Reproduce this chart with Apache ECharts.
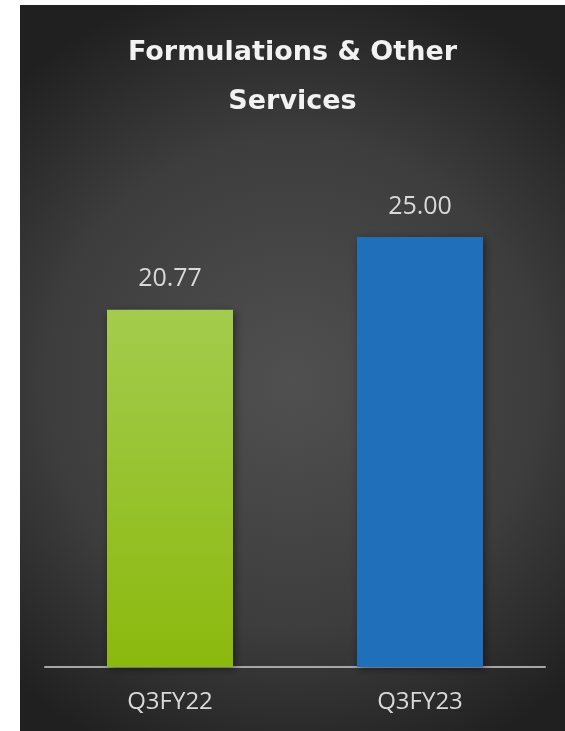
<!DOCTYPE html>
<html>
<head>
<meta charset="utf-8">
<script src="https://cdn.jsdelivr.net/npm/echarts@6/dist/echarts.min.js"></script>
<style>
  html, body { margin: 0; padding: 0; background: #ffffff; }
  #chart { position: absolute; left: 20px; top: 5px; width: 545px; height: 726px; }
</style>
</head>
<body>
<div id="chart"></div>
<script>
// Revenue by period (Formulations & Other Services)
const categories = ['Q3FY22', 'Q3FY23'];
const values = [20.77, 25.00];
const titleText = 'Formulations & Other\nServices';

const barColors = [
  new echarts.graphic.LinearGradient(0, 0, 0, 1, [
    { offset: 0, color: '#a3cc4d' },
    { offset: 1, color: '#8bb90d' }
  ]),
  '#1f6fba'
];

const chart = echarts.init(document.getElementById('chart'));
const W = 545, H = 726;

chart.setOption({
  animation: false,
  graphic: [{
    type: 'rect',
    z: -10,
    silent: true,
    shape: { x: 0, y: 0, width: W, height: H },
    style: {
      fill: new echarts.graphic.RadialGradient(0.5, 0.52, 0.75, [
        { offset: 0, color: '#505050' },
        { offset: 0.6, color: '#3d3d3d' },
        { offset: 1, color: '#202020' }
      ])
    }
  }],
  title: {
    text: titleText,
    left: 'center',
    top: 18,
    textStyle: {
      color: '#f2f2f2',
      fontFamily: 'DejaVu Sans',
      fontWeight: 'bold',
      fontSize: 27,
      lineHeight: 49
    }
  },
  grid: { left: 25, right: 20, top: 146, bottom: 64 },
  xAxis: {
    type: 'category',
    data: categories,
    axisTick: { show: false },
    axisLine: { lineStyle: { color: '#a6a6a6', width: 2 } },
    axisLabel: {
      color: '#d9d9d9',
      fontFamily: 'Open Sans',
      fontSize: 24,
      margin: 23
    }
  },
  yAxis: {
    type: 'value',
    min: 0,
    max: 30,
    show: false,
    splitLine: { show: false }
  },
  series: [{
    type: 'bar',
    barWidth: 126,
    data: values.map((v, i) => ({
      value: v,
      itemStyle: { color: barColors[i] }
    })),
    itemStyle: {
      shadowColor: 'rgba(0,0,0,0.45)',
      shadowBlur: 8,
      shadowOffsetX: 2,
      shadowOffsetY: 2
    },
    label: {
      show: true,
      position: 'top',
      distance: 18,
      color: '#d9d9d9',
      fontFamily: 'Open Sans',
      fontSize: 25,
      formatter: p => p.value.toFixed(2)
    }
  }]
});
</script>
</body>
</html>
